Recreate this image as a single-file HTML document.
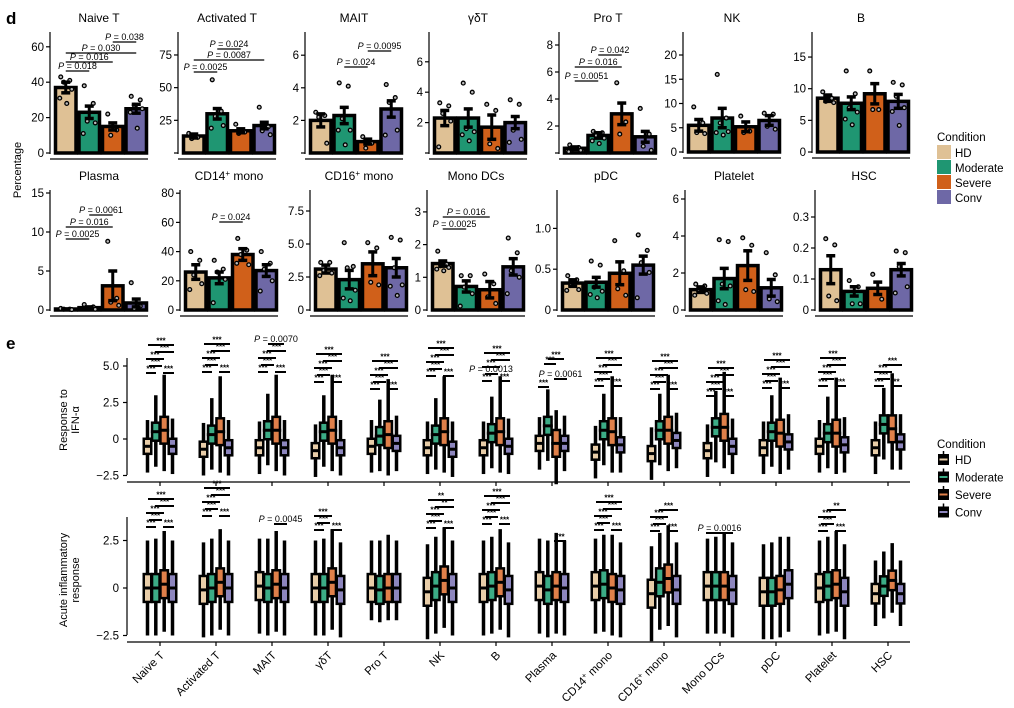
<!DOCTYPE html>
<html><head><meta charset="utf-8"><style>
html,body{margin:0;padding:0;background:#fff;}
svg{display:block;font-family:"Liberation Sans",Arial,sans-serif;}
</style></head><body>
<svg id="s" width="1014" height="708" viewBox="0 0 1014 708" xmlns="http://www.w3.org/2000/svg"></svg>
<script>
const C=['#dfc195','#1f9672','#d0601a','#6e68a6'];
const CL=['#e8cda8','#3cac86','#e0804a','#8d86be'];
let o='';
function t(x,y,s,sz,anc,extra){o+=`<text x="${x}" y="${y}" font-size="${sz}" text-anchor="${anc||'start'}" ${extra||''}>${s}</text>`;}
function l(x1,y1,x2,y2,w){o+=`<line x1="${x1}" y1="${y1}" x2="${x2}" y2="${y2}" stroke="#000" stroke-width="${w||1}"/>`;}
function r(x,y,w,h,f,extra){o+=`<rect x="${x}" y="${y}" width="${w}" height="${h}" fill="${f}" ${extra||''}/>`;}
t(6,24,'d',17,'start','font-weight="bold"');
t(6,349,'e',17,'start','font-weight="bold"');
t(0,0,'Percentage',11,'middle','transform="translate(21,170) rotate(-90)"');
const P=[
{n:'Naive T',x:50,z:153,s:1.77,top:32,tk:[[0,'0'],[20,'20'],[40,'40'],[60,'60']],b:[[37,3],[23,3.5],[15,2],[25,2.5]],pt:[[43,41,40,36,31,28],[38,28,18,17,11],[22,13,10],[32,30,27,25,23,14]],p:[[0,1,'0.018',71],[0,2,'0.016',62],[0,3,'0.030',53],[2,3,'0.038',42]]},
{n:'Activated T',x:178,z:153,s:1.307,top:32,tk:[[0,''],[25,'25'],[50,'50'],[75,'75']],b:[[13,1.5],[30,4],[17,1.5],[21,2.5]],pt:[[15,12,11],[56,32,28,21,19],[22,16,15],[35,20,17,14]],p:[[0,1,'0.0025',72],[0,3,'0.0087',60],[1,2,'0.024',49]]},
{n:'MAIT',x:305,z:153,s:16.3,top:32,tk:[[0,''],[2,'2'],[4,'4'],[6,'6']],b:[[2,0.4],[2.3,0.5],[0.7,0.15],[2.7,0.5]],pt:[[2.5,2.3,2.2,0.6],[4.3,4.1,2.1,1.4,1.4,0.5],[1,0.6,0.3],[4.2,3.4,3.1,1.4,1.1]],p:[[1,2,'0.024',67],[2,3,'0.0095',51]]},
{n:'γδT',x:429,z:153,s:15.2,top:32,tk:[[0,''],[2,'2'],[4,'4'],[6,'6']],b:[[2.3,0.5],[2.3,0.6],[1.7,0.8],[2.0,0.4]],pt:[[3.3,3.1,2.6,2.1,0.4],[4.6,4,1.6,1.4,1.2,0.8],[3.2,2.8,0.6,0.3],[3.5,3.2,1.5,0.9,0.7]],p:[]},
{n:'Pro T',x:559,z:153,s:13.5,top:32,tk:[[0,''],[2,'2'],[4,'4'],[6,'6'],[8,'8']],b:[[0.35,0.1],[1.3,0.2],[2.9,0.8],[1.2,0.4]],pt:[[0.6,0.4,0.3,0.2,0.1],[1.6,1.5,1.3,1.1,0.9,0.7],[5.2,2.3,1.4],[3.3,1.4,0.5,0.2]],p:[[0,1,'0.0051',81],[0,2,'0.016',67],[1,2,'0.042',55]]},
{n:'NK',x:683,z:152,s:4.85,top:32,tk:[[0,'0'],[5,'5'],[10,'10'],[15,'15'],[20,'20']],b:[[5.5,1.2],[7,2],[5.2,1],[6.5,1]],pt:[[9.3,6,4,3.8],[16,7,6,4.2,4,3.5],[7.4,4.3,4],[8,7.8,5.3,4.7]],p:[]},
{n:'B',x:812,z:152,s:6.33,top:32,tk:[[0,'0'],[5,'5'],[10,'10'],[15,'15']],b:[[8.5,0.5],[7.7,1],[9.2,1.6],[8,1.1]],pt:[[9.5,8.5,8,7.8],[12.8,9.2,7,6.3,5.2,4.3],[12.8,6.7,6.7],[11,10.6,8.8,7,6.4,4.2]],p:[]},
{n:'Plasma',x:50,z:310,s:7.8,top:190,tk:[[0,'0'],[5,'5'],[10,'10'],[15,'15']],b:[[0.1,0.03],[0.3,0.1],[3.1,1.9],[0.9,0.5]],pt:[[0.2,0.1,0.1,0.05],[0.7,0.4,0.2,0.1],[8.8,1.5,1,0.6],[3.5,0.5,0.2]],p:[[0,1,'0.0025',239],[0,2,'0.016',227],[1,2,'0.0061',215]]},
{n:'CD14<tspan baseline-shift="super" font-size="8">+</tspan> mono',x:180,z:310,s:1.46,top:190,tk:[[0,'0'],[20,'20'],[40,'40'],[60,'60'],[80,'80']],b:[[26,5],[22,4],[38,4],[27,4]],pt:[[40,34,24,18,14],[34,28,26,21,5],[49,41,38,31,32],[40,32,28,20,13]],p:[[1,2,'0.024',222]]},
{n:'CD16<tspan baseline-shift="super" font-size="8">+</tspan> mono',x:310,z:310,s:13.2,top:190,tk:[[0,'0'],[2.5,'2.5'],[5,'5.0'],[7.5,'7.5']],b:[[3.1,0.3],[2.3,0.7],[3.5,0.9],[3.2,0.7]],pt:[[3.6,3.6,3,2.8,2.6],[5.1,3.3,3.2,1.5,0.9,0.7],[5.1,4.7,2.1,1.9],[5.5,5.3,3.2,1.9,1.8,1.1]],p:[]},
{n:'Mono DCs',x:427,z:310,s:32.7,top:190,tk:[[0,'0'],[1,'1'],[2,'2'],[3,'3']],b:[[1.42,0.08],[0.72,0.17],[0.62,0.25],[1.32,0.25]],pt:[[1.8,1.4,1.35,1.3,1.25,1.2],[1.05,1.05,0.7,0.5,0.12],[1.1,0.8,0.4,0.2],[2.2,1.75,1.2,1.0,0.5]],p:[[0,1,'0.0025',229],[0,2,'0.016',217]]},
{n:'pDC',x:557,z:310,s:81.6,top:190,tk:[[0,'0'],[0.5,'0.5'],[1,'1.0']],b:[[0.33,0.04],[0.34,0.06],[0.45,0.14],[0.55,0.11]],pt:[[0.42,0.37,0.3,0.25,0.24],[0.6,0.55,0.28,0.23,0.19,0.15],[0.85,0.48,0.26,0.18],[0.92,0.73,0.58,0.46,0.15]],p:[]},
{n:'Platelet',x:685,z:310,s:18.5,top:190,tk:[[0,'0'],[2,'2'],[4,'4'],[6,'6']],b:[[1.1,0.15],[1.7,0.55],[2.4,0.8],[1.2,0.45]],pt:[[1.4,1.3,1,0.9,0.8],[3.8,3.7,1.4,1.3,0.5,0.3],[3.9,3.5,1.1,1.0],[3.1,1.9,0.6,0.45]],p:[]},
{n:'HSC',x:815,z:310,s:310,top:190,tk:[[0,'0'],[0.1,'0.1'],[0.2,'0.2'],[0.3,'0.3']],b:[[0.13,0.045],[0.06,0.015],[0.07,0.02],[0.13,0.02]],pt:[[0.23,0.21,0.045,0.03],[0.095,0.075,0.02,0.02],[0.115,0.035],[0.19,0.185,0.14,0.075,0.055]],p:[]}
];
const jit=[-5,4,-2,6,-6,1,3];
P.forEach(p=>{
  const W=98, bw=23.5;
  t(p.x+W/2,p.top-10,p.n,12,'middle');
  l(p.x,p.top,p.x,p.z+1,1.2);
  l(p.x,p.z+6,p.x+W,p.z+6,1.2);
  p.tk.forEach(k=>{const y=p.z-k[0]*p.s;l(p.x-4,y,p.x,y,1.2);if(k[1])t(p.x-6,y+4,k[1],11.5,'end');});
  const cx=i=>p.x+4+bw*i+bw/2;
  p.b.forEach((b,i)=>{
    const h=Math.max(b[0]*p.s,1);
    r(p.x+4+bw*i+1.5,p.z-h,bw-3,h,C[i],'stroke="#000" stroke-width="3.5"');
  });
  p.pt.forEach((a,i)=>a.forEach((v,j)=>{
    o+=`<circle cx="${cx(i)+jit[j%7]}" cy="${p.z-v*p.s}" r="1.9" fill="#bbb" stroke="#000" stroke-width="1.3"/>`;
  }));
  p.b.forEach((b,i)=>{
    const y1=p.z-(b[0]+b[1])*p.s, y2=p.z-(b[0]-b[1])*p.s, x=cx(i);
    l(x,y1,x,y2,3);l(x-4.5,y1,x+4.5,y1,3.5);l(x-4.5,y2,x+4.5,y2,3.5);
  });
  p.p.forEach(q=>{
    const x1=cx(q[0]),x2=cx(q[1]);
    l(x1,q[3],x2,q[3],1.2);
    t((x1+x2)/2,q[3]-2,`<tspan font-style="italic">P</tspan> = ${q[2]}`,9,'middle');
  });
});
t(937,141,'Condition',11.5);
['HD','Moderate','Severe','Conv'].forEach((n,i)=>{r(937,145+i*15,14,14,C[i]);t(955,157+i*15,n,11.5);});
const cats=['Naive T','Activated T','MAIT','γδT','Pro T','NK','B','Plasma','CD14<tspan baseline-shift="super" font-size="8">+</tspan> mono','CD16<tspan baseline-shift="super" font-size="8">+</tspan> mono','Mono DCs','pDC','Platelet','HSC'];
const cxs=i=>160+56*i;
function axis(z,s,top,bot,ticks){
  l(127,top,127,bot,1.2);l(127,bot+7,910,bot+7,1.2);
  ticks.forEach(k=>{const y=z-k[0]*s;l(123,y,127,y,1.2);t(119,y+4,k[1],11.5,'end');});
  for(let i=0;i<14;i++)l(cxs(i),bot+7,cxs(i),bot+11,1.2);
}
axis(439,14.6,358,475,[[-2.5,'−2.5'],[0,'0'],[2.5,'2.5'],[5,'5.0']]);
axis(588,19,517,635,[[-2.5,'−2.5'],[0,'0'],[2.5,'2.5']]);
t(0,0,'Response to',11,'middle','transform="translate(67,420) rotate(-90)"');
t(0,0,'IFN-α',11,'middle','transform="translate(79,420) rotate(-90)"');
t(0,0,'Acute inflammatory',11,'middle','transform="translate(67,580) rotate(-90)"');
t(0,0,'response',11,'middle','transform="translate(79,580) rotate(-90)"');
function box(x,z,s,q1,m,q3,lo,hi,ci){
  l(x,z-hi*s,x,z-lo*s,3.5);
  const y3=z-q3*s,y1=z-q1*s;
  r(x-5,y3-1.5,10,y1-y3+3,'#000');
  r(x-2.5,y3+1,5,Math.max(y1-y3-2,1),CL[ci]);
  r(x-5,z-m*s-1.5,10,3,'#000');
}
const tm=[[-0.5,0.5,0.6,-0.5],[-0.7,0.3,0.5,-0.6],[-0.6,0.6,0.6,-0.6],[-0.8,0.5,0.6,-0.6],[-0.5,0.2,0.3,-0.3],[-0.6,0.3,0.5,-0.7],[-0.6,0.4,0.5,-0.5],[-0.3,0.9,-0.3,-0.3],[-0.9,0.6,0.5,-0.4],[-1.0,0.6,0.6,-0.1],[-0.8,0.8,0.8,-0.5],[-0.6,0.5,0.4,-0.2],[-0.5,0.4,0.4,-0.4],[-0.6,1.0,0.7,-0.2]];
const hw=[0.5,0.6,0.9,0.5], wl=[1.8,2.4,2.8,1.9], wh=[1.8,2.5,3.8,1.9];
const off=[-12.5,-4.2,4.2,12.5];
tm.forEach((a,i)=>a.forEach((m,j)=>box(cxs(i)+off[j],439,14.6,m-hw[j],m,m+hw[j],m-wl[j],m+wh[j]*(i==7&&j==2?0.6:1),j)));
const bm=[[0,0,0.2,0],[-0.1,0,0.3,0],[0.1,0,0.2,0],[0,0,0.3,-0.1],[0,-0.1,0,0],[-0.2,0.1,0.4,0],[0,0.1,0.3,-0.1],[0.1,-0.1,0.1,0],[0.1,0.2,0,-0.1],[-0.3,0.3,0.5,-0.1],[0.1,0.1,0.1,-0.1],[-0.2,-0.2,-0.1,0.2],[0,0.1,0.2,-0.2],[-0.3,0.1,0.4,-0.3]];
const bw2=[2.5,2.6,2.8,2.5];
bm.forEach((a,i)=>a.forEach((m,j)=>{
  const h=(i==13?0.5:0.72), lo=(i==4||i==13)?1.7:2.5;
  box(cxs(i)+off[j],588,19,m-h,m,m+h,m-lo,m+bw2[j]*(i==13?0.7:1),j);
}));
function sl(x1,x2,y,lab){l(x1,y,x2,y,2);if(lab)t((x1+x2)/2,y-1.5,lab,8,'middle','font-weight="bold"');}
function gen(c,base,n,labs){
  labs=labs||[];
  const L=[[[-14,-4],[3,14]],[[-11,2]],[[-14,4]],[[-5,14]],[[-12,14]]];
  for(let k=0;k<=n;k++){
    L[k].forEach((s,q)=>sl(c+s[0],c+s[1],base-k*7,labs[k]&&labs[k][q]!==undefined?labs[k][q]:'***'));
  }
}
function pv(x1,x2,y,v){l(x1,y,x2,y,2);t((x1+x2)/2,y-2,`<tspan font-style="italic">P</tspan> = ${v}`,9,'middle');}
gen(cxs(0),373,4);gen(cxs(1),372,4);
gen(cxs(2),372,3);pv(cxs(2)-4,cxs(2)+12,344,'0.0070');
gen(cxs(3),382,4);gen(cxs(4),389,4);gen(cxs(5),376,4);
gen(cxs(6),381,4,[null,['']]);t(cxs(6)-5,372,'<tspan font-style="italic">P</tspan> = 0.0013',9,'middle');
sl(cxs(7)-14,cxs(7)-3,387,'***');pv(cxs(7)+2,cxs(7)+15,379,'0.0061');sl(cxs(7)-8,cxs(7)+4,364,'***');sl(cxs(7)-4,cxs(7)+12,359,'***');
gen(cxs(8),386,4);gen(cxs(9),389,4);gen(cxs(10),396,4);gen(cxs(11),388,4);gen(cxs(12),386,4);gen(cxs(13),386,3,[['***','**']]);
gen(cxs(0),527,4);gen(cxs(1),516,4);
pv(cxs(2)+2,cxs(2)+15,524,'0.0045');
gen(cxs(3),530,2);
gen(cxs(5),528,4,[null,null,null,['**'],['**']]);
gen(cxs(6),524,4);
sl(cxs(7)+2,cxs(7)+14,541,'***');
gen(cxs(8),530,4);gen(cxs(9),531,3);
pv(cxs(10)-14,cxs(10)+13,533,'0.0016');
gen(cxs(12),531,3,[null,null,null,['**']]);
cats.forEach((n,i)=>t(0,0,n,11.5,'end',`transform="translate(${cxs(i)+5},656) rotate(-45)"`));
t(937,448,'Condition',11.5);
['HD','Moderate','Severe','Conv'].forEach((n,i)=>{
  const y=460+i*17.5;
  l(943.5,y-9,943.5,y+4,1.5);r(938,y-6,11,11,'#000');r(939.5,y-1.5,8,2,CL[i]);
  t(955,y+4,n,11.5);
});
document.getElementById('s').innerHTML=o;
</script>
</body></html>
